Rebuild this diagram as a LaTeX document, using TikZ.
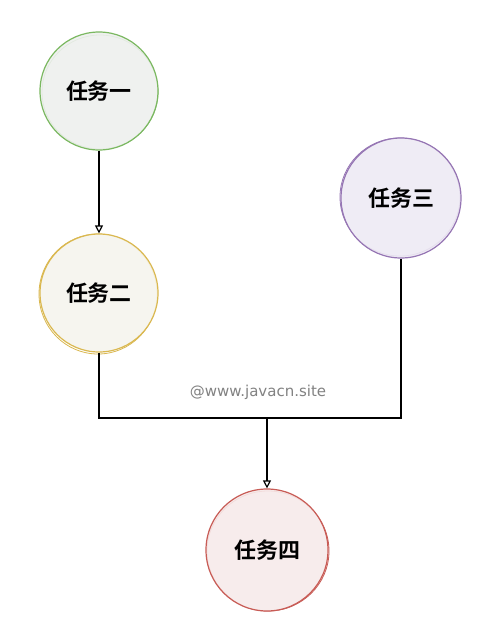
\documentclass[tikz,border=0pt]{standalone}
\usepackage{fontspec}
\newfontfamily\cjk{Noto Sans CJK SC}[BoldFont={* Bold}]
\usetikzlibrary{arrows.meta}
\definecolor{gA}{RGB}{122,184,96}
\definecolor{gAf}{RGB}{238,240,238}
\definecolor{yA}{RGB}{218,184,80}
\definecolor{yAf}{RGB}{246,245,238}
\definecolor{pA}{RGB}{150,118,180}
\definecolor{pAf}{RGB}{238,234,244}
\definecolor{rA}{RGB}{200,92,86}
\definecolor{rAf}{RGB}{247,234,234}
\definecolor{wm}{RGB}{130,130,130}
\tikzset{
  task/.style={circle, minimum size=118pt, inner sep=0pt, line width=1.2pt,
    font={\cjk\bfseries\fontsize{22}{26}\selectfont}, text=black},
  link/.style={line width=1.2pt, draw=black},
  arr/.style={-{Triangle[open,length=8pt,width=8pt]}},
}
\begin{document}
\begin{tikzpicture}[x=1pt,y=-1pt]
\useasboundingbox (0,0) rectangle (500,641);
\fill[white] (0,0) rectangle (500,641);
% sketch extra strokes
\draw[gA, line width=0.8pt] (100,92) circle[x radius=58, y radius=57];
\draw[yA, line width=0.8pt] (98,294) circle[x radius=59, y radius=60];
\draw[pA, line width=0.8pt] (400,197) circle[x radius=60, y radius=59];
\draw[rA, line width=0.8pt] (268,551) circle[x radius=61, y radius=60];
\node[task, draw=gA, fill=gAf, fill opacity=0.9, text opacity=1] (t1) at (99,91) {任务一};
\node[task, draw=yA, fill=yAf, fill opacity=0.9, text opacity=1] (t2) at (99,293) {任务二};
\node[task, draw=pA, fill=pAf, fill opacity=0.9, text opacity=1, minimum size=120pt] (t3) at (401,198) {任务三};
\node[task, draw=rA, fill=rAf, fill opacity=0.9, text opacity=1, minimum size=122pt] (t4) at (267,550) {任务四};
\coordinate (jl) at (t2.south |- 0,418);
\coordinate (jr) at (t3.south |- 0,418);
\coordinate (jm) at (t4.north |- 0,418);
\draw[link, arr] (t1.south) -- (t2.north);
\draw[link] (t2.south) -- (jl) -- (jr) -- (t3.south);
\draw[link, arr] (jm) -- (t4.north);
\node[font={\fontspec{DejaVu Sans}\fontsize{15}{18}\selectfont}, text=wm] (wmt) at (258,392) {@www.javacn.site};
\end{tikzpicture}
\end{document}
